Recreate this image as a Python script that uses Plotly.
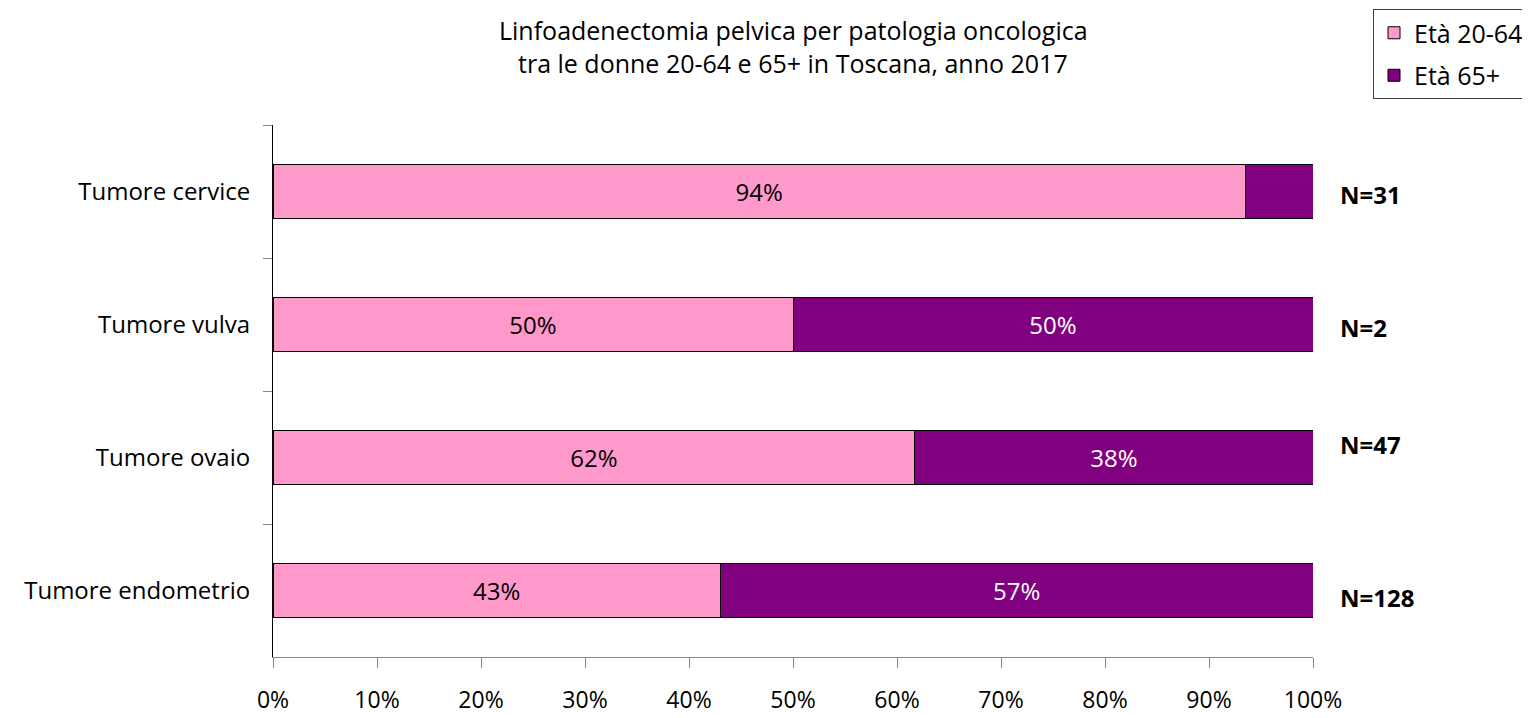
import plotly.graph_objects as go

# categories, top to bottom as drawn
categories = ["Tumore cervice", "Tumore vulva", "Tumore ovaio", "Tumore endometrio"]
eta_20_64 = [93.5, 50.0, 61.7, 43.0]
eta_65 = [6.5, 50.0, 38.3, 57.0]
labels_20_64 = ["94%", "50%", "62%", "43%"]
labels_65 = ["", "50%", "38%", "57%"]
n_labels = ["N=31", "N=2", "N=47", "N=128"]
x_ticks = [0, 10, 20, 30, 40, 50, 60, 70, 80, 90, 100]
title_lines = ["Linfoadenectomia pelvica per patologia oncologica",
               "tra le donne 20-64 e 65+ in Toscana, anno 2017"]

FONT = "Open Sans"
FS = 24

fig = go.Figure()

# Età 20-64
fig.add_trace(go.Bar(
    y=categories,
    x=eta_20_64,
    orientation="h",
    name="Età 20-64",
    legendgroup="a",
    marker=dict(color="#FF99CC", line=dict(color="black", width=1)),
    text=labels_20_64,
    textposition="inside",
    insidetextanchor="middle",
    insidetextfont=dict(family=FONT, size=FS, color="black"),
    width=0.4,
))

# Età 65+
fig.add_trace(go.Bar(
    y=categories,
    x=eta_65,
    orientation="h",
    name="Età 65+",
    legendgroup="b",
    marker=dict(color="#800080", line=dict(color="black", width=1)),
    text=labels_65,
    textposition="inside",
    insidetextanchor="middle",
    insidetextfont=dict(family=FONT, size=FS, color="white"),
    width=0.4,
))

# N labels right of the bars
n_shift = [3, 3, -13, 7]
for cat, lab, dy in zip(categories, n_labels, n_shift):
    fig.add_annotation(
        x=100, y=cat, xref="x", yref="y",
        text="<b>" + lab + "</b>",
        showarrow=False,
        xanchor="left",
        xshift=25, yshift=-dy,
        font=dict(family=FONT, size=FS, color="black"),
    )

# two-line title
for i, line in enumerate(title_lines):
    fig.add_annotation(
        x=0.5, xref="paper", xanchor="center",
        y=[1.1786, 1.1165][i], yref="paper", yanchor="middle",
        text=line, showarrow=False,
        font=dict(family=FONT, size=25, color="black"),
    )

fig.update_layout(
    barmode="stack",
    width=1522, height=710,
    margin=dict(l=265, r=217, t=117, b=61, autoexpand=False),
    paper_bgcolor="white",
    plot_bgcolor="white",
    font=dict(family=FONT, size=FS, color="black"),
    legend=dict(
        x=1.0577, y=1.218, xanchor="left", yanchor="top",
        bordercolor="#404040", borderwidth=1,
        traceorder="grouped", tracegroupgap=7,
        font=dict(family=FONT, size=25),
    ),
    showlegend=True,
)

fig.update_xaxes(
    range=[0, 100],
    tickvals=x_ticks,
    ticktext=[f"{v}%" for v in x_ticks],
    tickfont=dict(family=FONT, size=23),
    showgrid=False, zeroline=False,
    showline=True, linecolor="#868686", linewidth=1,
    ticks="outside", ticklen=10, tickcolor="#868686",
    ticklabelstandoff=12,
    automargin=False,
)

fig.update_yaxes(
    autorange="reversed",
    showgrid=False, zeroline=False,
    showline=True, linecolor="black", linewidth=1,
    ticks="outside", ticklen=9, tickcolor="#868686",
    tickson="boundaries",
    ticklabelstandoff=17,
    automargin=False,
)

fig.write_html("out.html")
